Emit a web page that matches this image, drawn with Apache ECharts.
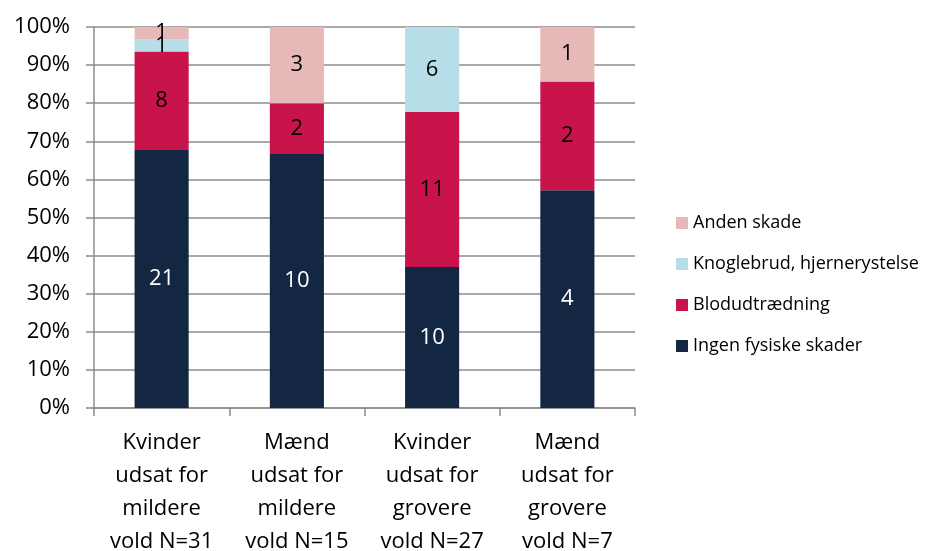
<!DOCTYPE html>
<html>
<head>
<meta charset="utf-8">
<script src="https://cdn.jsdelivr.net/npm/echarts@6/dist/echarts.min.js"></script>
<style>
  html, body { margin: 0; padding: 0; background: #fff; }
  #chart { width: 925px; height: 551px; }
</style>
</head>
<body>
<div id="chart"></div>
<script>
const categories = [
  'Kvinder\nudsat for\nmildere\nvold N=31',
  'Mænd\nudsat for\nmildere\nvold N=15',
  'Kvinder\nudsat for\ngrovere\nvold N=27',
  'Mænd\nudsat for\ngrovere\nvold N=7'
]
// antal personer pr. kategori (labels i søjlerne)
const ingenSkader = [21, 10, 10, 4]
const blodudtraedning = [8, 2, 11, 2]
const knoglebrud = [1, 0, 6, 0]
const andenSkade = [1, 3, 0, 1]
const totals = [31, 15, 27, 7]
const yTicks = [0, 10, 20, 30, 40, 50, 60, 70, 80, 90, 100]

const font = 'Open Sans, Noto Sans, sans-serif'

function makeSeries(name, counts, color, labelColor) {
  return {
    name: name,
    type: 'bar',
    stack: 'total',
    barWidth: '40%',
    itemStyle: { color: color },
    label: {
      show: true,
      position: 'inside',
      color: labelColor,
      fontSize: 22,
      fontFamily: font,
      formatter: p => (counts[p.dataIndex] ? String(counts[p.dataIndex]) : '')
    },
    data: counts.map((c, i) => c / totals[i] * 100)
  }
}

const chart = echarts.init(document.getElementById('chart'))
chart.setOption({
  animation: false,
  textStyle: { fontFamily: font },
  grid: { left: 94, right: 290, top: 27, bottom: 143, containLabel: false, outerBoundsMode: 'none' },
  legend: {
    orient: 'vertical',
    left: 671,
    top: 209,
    itemWidth: 12,
    itemHeight: 12,
    itemGap: 23,
    icon: 'rect',
    textStyle: { fontSize: 18, color: '#000', fontFamily: font },
    data: ['Anden skade', 'Knoglebrud, hjernerystelse', 'Blodudtrædning', 'Ingen fysiske skader']
  },
  xAxis: {
    type: 'category',
    data: categories,
    axisLine: { lineStyle: { color: '#8c8c8c', width: 1.5 } },
    axisTick: { show: true, length: 8, lineStyle: { color: '#8c8c8c', width: 1.5 } },
    axisLabel: { color: '#000', fontSize: 22, lineHeight: 33, margin: 18, interval: 0 }
  },
  yAxis: {
    type: 'value',
    min: 0,
    max: 100,
    interval: 10,
    axisLine: { show: true, lineStyle: { color: '#8c8c8c', width: 1.5 } },
    axisTick: { show: true, length: 8, lineStyle: { color: '#8c8c8c', width: 1.5 } },
    splitLine: { lineStyle: { color: '#8c8c8c', width: 1.5 } },
    axisLabel: {
      color: '#000',
      fontSize: 22,
      margin: 24,
      formatter: v => (yTicks.includes(v) ? v + '%' : '')
    }
  },
  series: [
    makeSeries('Ingen fysiske skader', ingenSkader, '#132743', '#fff'),
    makeSeries('Blodudtrædning', blodudtraedning, '#c8144b', '#000'),
    makeSeries('Knoglebrud, hjernerystelse', knoglebrud, '#b7dde8', '#000'),
    makeSeries('Anden skade', andenSkade, '#e6b8b7', '#000')
  ]
})
</script>
</body>
</html>
